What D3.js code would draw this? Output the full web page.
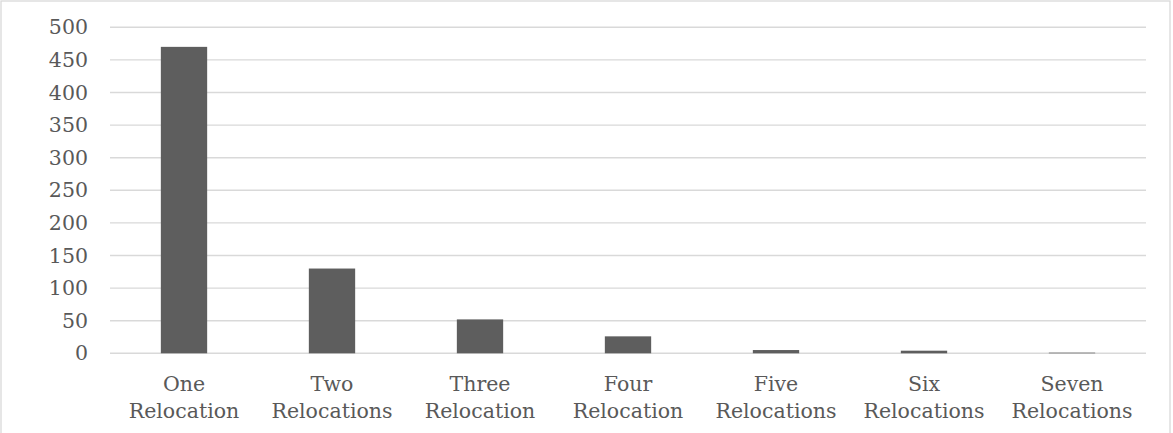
<!DOCTYPE html>
<html>
<head>
<meta charset="utf-8">
<script src="https://cdn.jsdelivr.net/npm/d3@7"></script>
<style>
  html, body { margin: 0; padding: 0; background: #fff; }
  svg { display: block; }
  text { font-family: "DejaVu Serif", Georgia, serif; fill: #595959; }
</style>
</head>
<body>
<svg id="chart" width="1173" height="433"></svg>
<script>
// Relocation counts per category
const categories = [
  ["One", "Relocation"],
  ["Two", "Relocations"],
  ["Three", "Relocation"],
  ["Four", "Relocation"],
  ["Five", "Relocations"],
  ["Six", "Relocations"],
  ["Seven", "Relocations"]
];
const values = [470, 130, 52, 26, 5, 4, 1];
const yTicks = [0, 50, 100, 150, 200, 250, 300, 350, 400, 450, 500];

const W = 1173, H = 433;
const margin = { left: 110, right: 27, top: 27.3, bottom: 79.7 };
const fontSize = 20.5;
const svg = d3.select("#chart");

// outer frame
svg.append("rect")
  .attr("x", 1).attr("y", 1)
  .attr("width", W - 4).attr("height", H + 10)
  .attr("fill", "none").attr("stroke", "#d9d9d9").attr("stroke-width", 1.3);

const x = d3.scaleBand()
  .domain(d3.range(categories.length))
  .range([margin.left, W - margin.right])
  .padding(0);

const y = d3.scaleLinear()
  .domain([0, 500])
  .range([H - margin.bottom, margin.top]);

// horizontal gridlines
svg.append("g")
  .selectAll("line")
  .data(yTicks)
  .join("line")
  .attr("x1", margin.left).attr("x2", W - margin.right)
  .attr("y1", d => y(d)).attr("y2", d => y(d))
  .attr("stroke", "#d9d9d9").attr("stroke-width", 1.4);

// y axis labels
const yAxis = d3.axisLeft(y).tickValues(yTicks).tickSize(0).tickPadding(0);
const gy = svg.append("g")
  .attr("transform", `translate(${margin.left - 22},0)`)
  .call(yAxis);
gy.select(".domain").remove();
gy.selectAll("text")
  .attr("font-family", "DejaVu Serif, Georgia, serif")
  .attr("font-size", fontSize)
  .attr("fill", "#595959");

// bars
const barW = x.bandwidth() * 0.313;
svg.append("g")
  .selectAll("rect")
  .data(values)
  .join("rect")
  .attr("x", (d, i) => x(i) + (x.bandwidth() - barW) / 2)
  .attr("width", barW)
  .attr("y", d => y(d))
  .attr("height", d => y(0) - y(d))
  .attr("fill", "#5e5e5e");

// category labels (two lines each)
const labels = svg.append("g")
  .selectAll("text")
  .data(categories)
  .join("text")
  .attr("text-anchor", "middle")
  .attr("font-size", fontSize)
  .attr("transform", (d, i) => `translate(${x(i) + x.bandwidth() / 2},0)`);
labels.selectAll("tspan")
  .data(d => d)
  .join("tspan")
  .attr("x", 0)
  .attr("y", (d, j) => 391 + j * 27)
  .text(d => d);
</script>
</body>
</html>
